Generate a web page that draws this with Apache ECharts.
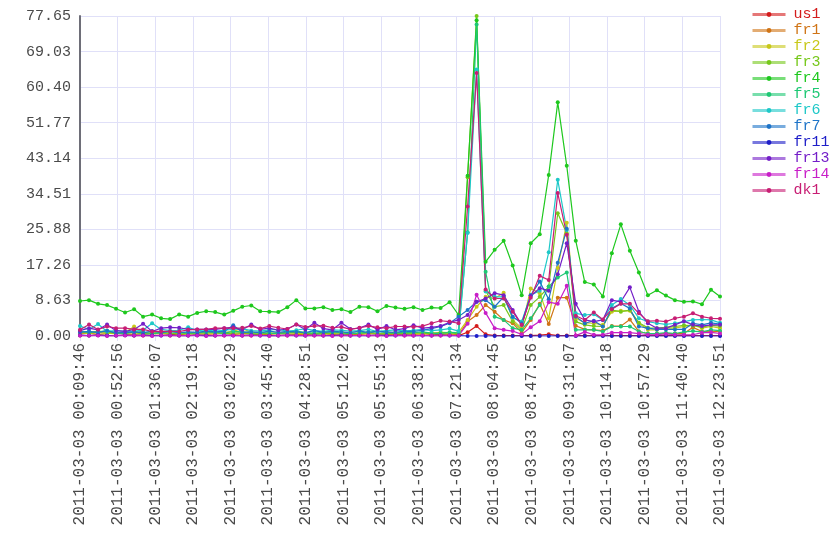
<!DOCTYPE html>
<html>
<head>
<meta charset="utf-8">
<script src="https://cdn.jsdelivr.net/npm/echarts@6/dist/echarts.min.js"></script>
<style>
  html, body { margin: 0; padding: 0; background: #fff; }
  #chart { width: 840px; height: 560px; }
</style>
</head>
<body>
<div id="chart"></div>
<script>
const day = '2011-03-03';

// sample times, about every 10 minutes
const times = [
  '00:09:46', '00:20:06', '00:30:27', '00:40:47', '00:51:07', '01:01:28', '01:11:48', '01:22:08', '01:32:29', '01:42:49', '01:53:09', '02:03:30',
  '02:13:50', '02:24:11', '02:34:31', '02:44:51', '02:55:12', '03:05:32', '03:15:52', '03:26:13', '03:36:33', '03:46:53', '03:57:14', '04:07:34',
  '04:17:54', '04:28:15', '04:38:35', '04:48:55', '04:59:16', '05:09:36', '05:19:57', '05:30:17', '05:40:37', '05:50:58', '06:01:18', '06:11:38',
  '06:21:59', '06:32:19', '06:42:39', '06:53:00', '07:03:20', '07:13:40', '07:24:01', '07:34:21', '07:44:41', '07:55:02', '08:05:22', '08:15:42',
  '08:26:03', '08:36:23', '08:46:44', '08:57:04', '09:07:24', '09:17:45', '09:28:05', '09:38:25', '09:48:46', '09:59:06', '10:09:26', '10:19:47',
  '10:30:07', '10:40:27', '10:50:48', '11:01:08', '11:11:28', '11:21:49', '11:32:09', '11:42:29', '11:52:50', '12:03:10', '12:13:31', '12:23:51'
];

const names = ['us1', 'fr1', 'fr2', 'fr3', 'fr4', 'fr5', 'fr6', 'fr7', 'fr11', 'fr13', 'fr14', 'dk1'];

const us1 = [
  0.1, 0.1, 0.2, 0.1, 0.1, 0.2, 0.1, 0.1, 0.1, 0.2, 0.1, 0.1,
  0.1, 0.2, 0.1, 0.1, 0.1, 0.2, 0.1, 0.1, 0.2, 0.1, 0.1, 0.1,
  0.2, 0.1, 0.1, 0.1, 0.2, 0.1, 0.1, 0.2, 0.1, 0.1, 0.1, 0.2,
  0.1, 0.1, 0.2, 0.1, 0.1, 0.2, 0.1, 0.9, 2.4, 0.4, 0.1, 0.1,
  0.1, 0.1, 0.1, 0.2, 0.4, 0.1, 0.1, 0.1, 0.1, 0.1, 0.1, 0.1,
  0.1, 0.1, 0.1, 0.1, 0.1, 0.1, 0.1, 0.1, 0.1, 0.1, 0.1, 0.1
];
const fr1 = [
  0.5, 0.7, 0.4, 0.6, 0.8, 0.5, 0.4, 0.6, 0.5, 0.7, 0.4, 0.3,
  0.5, 0.6, 0.4, 0.5, 0.7, 0.4, 0.6, 0.5, 0.3, 0.4, 0.6, 0.5,
  0.4, 0.3, 0.5, 0.6, 0.4, 0.5, 0.3, 0.4, 0.6, 0.5, 0.4, 0.3,
  0.5, 0.4, 0.6, 0.3, 0.4, 0.5, 0.3, 3.5, 5.1, 7.5, 5.9, 3.9,
  3.1, 0.8, 3.9, 7.8, 2.9, 9.3, 9.3, 2.5, 1.6, 1.5, 1.3, 2.4,
  2.4, 4.0, 1.1, 0.6, 0.6, 0.6, 0.6, 0.6, 2.1, 1.1, 1.0, 1.1
];
const fr2 = [
  0.8, 0.6, 0.9, 0.7, 0.5, 0.8, 2.3, 0.6, 0.9, 0.7, 0.6, 0.8,
  0.5, 0.7, 0.9, 0.6, 0.8, 1.2, 1.8, 0.9, 0.7, 0.6, 0.8, 0.9,
  0.6, 0.7, 0.5, 0.8, 0.6, 0.9, 0.7, 0.6, 0.8, 0.5, 0.7, 0.9,
  0.6, 0.7, 0.5, 0.8, 0.6, 0.7, 0.9, 3.9, 7.1, 9.5, 9.1, 10.5,
  3.9, 1.9, 11.5, 10.4, 4.3, 16.5, 27.5, 4.3, 3.2, 3.1, 2.7, 5.9,
  6.1, 6.1, 3.1, 1.5, 1.5, 1.9, 1.9, 2.3, 2.7, 1.9, 2.3, 1.9
];
const fr3 = [
  1.0, 0.8, 1.2, 0.9, 0.7, 0.6, 0.9, 0.5, 0.6, 0.8, 0.7, 0.5,
  0.6, 0.8, 0.7, 0.9, 0.6, 0.7, 0.8, 0.6, 0.5, 0.7, 0.6, 0.8,
  0.9, 0.7, 0.6, 0.5, 0.7, 0.8, 0.6, 0.7, 0.9, 0.6, 0.5, 0.7,
  0.6, 0.8, 0.7, 0.6, 0.9, 0.8, 0.5, 38.5, 77.654, 11.0, 7.1, 7.5,
  3.5, 1.5, 7.5, 9.5, 12.0, 29.8, 24.9, 3.5, 2.7, 2.4, 2.3, 6.3,
  5.9, 6.3, 3.2, 2.0, 1.9, 2.1, 2.3, 2.6, 2.5, 2.2, 2.6, 2.4
];
const fr4 = [
  8.5, 8.7, 7.8, 7.5, 6.6, 5.7, 6.5, 4.7, 5.2, 4.3, 4.1, 5.2,
  4.7, 5.6, 6.0, 5.8, 5.2, 6.1, 7.1, 7.4, 6.0, 5.9, 5.8, 7.0,
  8.7, 6.7, 6.7, 7.0, 6.3, 6.5, 5.8, 7.1, 7.0, 6.0, 7.3, 6.9,
  6.6, 7.0, 6.3, 6.9, 6.8, 8.2, 5.1, 38.9, 76.6, 18.0, 20.9, 23.1,
  17.1, 9.9, 22.5, 24.7, 39.1, 56.7, 41.3, 23.1, 13.1, 12.5, 9.6, 20.1,
  27.1, 20.7, 15.4, 9.9, 11.1, 9.8, 8.7, 8.3, 8.4, 7.7, 11.2, 9.6
];
const fr5 = [
  1.2, 0.9, 1.0, 1.3, 0.8, 0.7, 1.0, 0.9, 0.6, 0.8, 1.1, 0.9,
  0.7, 0.8, 1.0, 0.9, 0.7, 1.1, 1.0, 0.8, 0.9, 0.7, 0.6, 0.9,
  1.2, 0.8, 0.7, 0.9, 1.0, 0.8, 0.6, 0.7, 0.9, 1.1, 0.8, 0.7,
  0.9, 0.8, 1.0, 0.7, 0.6, 0.9, 0.8, 25.2, 75.6, 15.6, 4.7, 3.9,
  1.9, 1.5, 4.3, 7.5, 12.0, 14.2, 15.4, 1.5, 1.5, 1.5, 1.1, 2.3,
  2.3, 2.3, 1.1, 0.6, 0.6, 0.8, 0.6, 1.0, 1.2, 1.0, 1.5, 1.3
];
const fr6 = [
  2.4, 1.6, 2.9, 1.1, 1.3, 1.1, 1.2, 1.4, 3.1, 1.6, 1.3, 1.4,
  2.1, 1.3, 1.5, 1.2, 1.4, 1.6, 1.8, 1.3, 1.2, 1.5, 1.6, 1.2,
  1.4, 1.8, 1.3, 1.1, 1.5, 1.4, 1.2, 1.3, 1.6, 1.1, 1.3, 1.5,
  1.2, 1.4, 1.6, 1.3, 1.5, 1.8, 1.2, 25.0, 64.7, 10.8, 9.5, 9.5,
  4.5, 3.5, 9.9, 11.0, 20.3, 37.9, 25.7, 5.5, 5.1, 5.3, 3.9, 7.5,
  9.0, 7.5, 4.3, 3.5, 3.1, 2.8, 3.1, 3.5, 3.9, 4.0, 3.9, 3.2
];
const fr7 = [
  0.9, 1.1, 0.8, 1.3, 0.7, 0.9, 1.0, 0.8, 1.2, 0.9, 1.1, 0.8,
  1.0, 0.9, 1.2, 1.0, 1.1, 2.6, 0.9, 1.0, 0.8, 1.2, 0.9, 1.1,
  1.0, 0.8, 1.3, 0.9, 1.1, 1.0, 0.8, 1.2, 0.9, 1.1, 1.0, 0.9,
  1.2, 1.1, 1.4, 1.8, 2.3, 3.1, 4.7, 6.3, 8.3, 8.7, 7.1, 9.5,
  4.7, 3.1, 9.9, 13.2, 8.9, 17.8, 26.0, 4.7, 3.1, 3.7, 2.3, 6.7,
  7.9, 6.7, 2.3, 1.9, 1.6, 1.6, 1.6, 1.6, 3.1, 2.7, 3.2, 2.9
];
const fr11 = [
  0.2, 0.1, 0.2, 0.1, 0.1, 0.2, 0.1, 0.2, 0.1, 0.1, 0.2, 0.1,
  0.1, 0.2, 0.1, 0.1, 0.2, 0.1, 0.1, 0.2, 0.1, 0.1, 0.1, 0.2,
  0.1, 0.1, 0.2, 0.1, 0.1, 0.2, 0.1, 0.1, 0.1, 0.2, 0.1, 0.1,
  0.2, 0.1, 0.1, 0.1, 0.2, 0.1, 0.1, 0.0, 0.0, 0.0, 0.0, 0.0,
  0.0, 0.0, 0.0, 0.0, 0.0, 0.0, 0.0, 0.0, 0.0, 0.0, 0.0, 0.0,
  0.0, 0.0, 0.0, 0.0, 0.0, 0.0, 0.0, 0.0, 0.0, 0.0, 0.0, 0.0
];
const fr13 = [
  1.3, 1.9, 1.5, 2.8, 1.3, 1.1, 1.6, 3.0, 1.1, 1.9, 2.1, 2.0,
  1.6, 1.6, 1.6, 1.6, 1.9, 2.1, 1.5, 2.8, 1.6, 1.9, 1.4, 1.7,
  2.8, 1.6, 3.2, 1.8, 1.5, 3.2, 1.7, 1.9, 2.8, 1.6, 2.4, 1.5,
  1.8, 2.6, 1.9, 2.1, 2.4, 3.3, 3.9, 5.1, 8.3, 9.1, 10.4, 9.9,
  6.3, 2.7, 9.7, 11.6, 11.0, 15.0, 22.5, 7.8, 3.9, 3.5, 3.9, 8.7,
  8.3, 11.8, 5.9, 3.1, 1.9, 1.9, 2.7, 3.6, 2.7, 2.4, 2.7, 2.7
];
const fr14 = [
  0.1, 0.1, 0.1, 0.0, 0.1, 0.1, 0.1, 0.1, 0.0, 0.1, 0.1, 0.1,
  0.1, 0.1, 0.0, 0.1, 0.1, 0.1, 0.1, 0.1, 0.1, 0.0, 0.1, 0.1,
  0.1, 0.1, 0.1, 0.1, 0.0, 0.1, 0.1, 0.1, 0.1, 0.1, 0.0, 0.1,
  0.1, 0.1, 0.1, 0.1, 0.1, 0.1, 0.1, 3.0, 10.0, 5.6, 1.9, 1.5,
  1.2, 0.4, 2.1, 3.6, 8.2, 7.8, 12.2, 0.1, 1.0, 0.3, 0.3, 0.8,
  0.8, 0.8, 0.6, 0.3, 0.3, 0.5, 0.3, 0.3, 0.3, 0.8, 0.9, 0.6
];
const dk1 = [
  1.5, 2.8, 1.6, 2.3, 1.9, 1.9, 1.6, 1.6, 1.1, 1.1, 1.1, 1.1,
  1.5, 1.6, 1.6, 1.9, 1.9, 1.9, 2.0, 2.4, 1.8, 2.4, 2.0, 1.7,
  2.8, 2.2, 2.4, 2.5, 2.0, 2.2, 1.6, 2.0, 2.4, 2.1, 1.9, 2.3,
  2.3, 2.2, 2.4, 3.1, 3.7, 3.5, 3.1, 31.4, 63.8, 11.3, 9.1, 9.1,
  5.9, 2.7, 9.3, 14.6, 13.6, 34.7, 24.6, 4.9, 3.9, 5.7, 4.0, 6.5,
  7.8, 7.8, 5.5, 3.6, 3.7, 3.5, 4.3, 4.7, 5.5, 4.7, 4.3, 4.2
];

const seriesData = [us1, fr1, fr2, fr3, fr4, fr5, fr6, fr7, fr11, fr13, fr14, dk1];
const colors = ['#d41c1c', '#d07416', '#c8c81a', '#76c81a', '#1ec81e', '#1ec874',
                '#1ec8c8', '#1e74c8', '#1e1ec8', '#741ec8', '#c81ec8', '#c81e74'];

const font = 'Liberation Mono';
const gridColor = '#e0e0f8';

const toSec = s => {
  const p = s.split(':').map(Number);
  return p[0] * 3600 + p[1] * 60 + p[2];
};
const t0 = toSec(times[0]);
const span = toSec(times[times.length - 1]) - t0;
const yMax = Math.max(...seriesData.flat());
const pad = n => String(n).padStart(2, '0');
const fmtTime = v => {
  const s = Math.floor(t0 + v + 1e-6);
  return day + ' ' + pad(Math.floor(s / 3600)) + ':' + pad(Math.floor(s % 3600 / 60)) + ':' + pad(s % 60);
};

const chart = echarts.init(document.getElementById('chart'));

chart.setOption({
  animation: false,
  textStyle: { fontFamily: font },
  grid: { left: 80, right: 120, top: 16, bottom: 224 },
  legend: {
    orient: 'vertical',
    left: 751,
    top: 7,
    padding: 0,
    itemWidth: 33,
    itemHeight: 6,
    itemGap: 1,
    textStyle: { fontFamily: font, fontSize: 15, lineHeight: 15, padding: [0, 0, 0, 3] },
    lineStyle: { width: 3, opacity: 0.6 },
    data: names.map((n, i) => ({ name: n, textStyle: { color: colors[i] } }))
  },
  xAxis: {
    type: 'value',
    min: 0,
    max: span,
    interval: span / 17,
    axisLine: { show: false },
    axisTick: { show: true, length: 5, lineStyle: { color: gridColor } },
    splitLine: { show: true, lineStyle: { color: gridColor } },
    axisLabel: {
      rotate: 90,
      margin: 7,
      formatter: fmtTime,
      fontFamily: font,
      fontSize: 16,
      color: '#4a4a4a'
    }
  },
  yAxis: {
    type: 'value',
    min: 0,
    max: yMax,
    interval: yMax / 9,
    axisLine: { show: true, lineStyle: { color: '#6e6e78', width: 2 } },
    axisTick: { show: false },
    splitLine: { show: true, lineStyle: { color: gridColor } },
    axisLabel: {
      margin: 9,
      formatter: v => v.toFixed(2),
      fontFamily: font,
      fontSize: 15,
      color: '#4a4a4a'
    }
  },
  series: names.map((n, i) => ({
    name: n,
    type: 'line',
    data: seriesData[i].map((v, j) => [toSec(times[j]) - t0, v]),
    symbol: 'circle',
    symbolSize: 4,
    showSymbol: true,
    color: colors[i],
    lineStyle: { width: 1.2, color: colors[i] },
    itemStyle: { color: colors[i] },
    emphasis: { disabled: true }
  }))
});

window.addEventListener('resize', () => chart.resize());
</script>
</body>
</html>
